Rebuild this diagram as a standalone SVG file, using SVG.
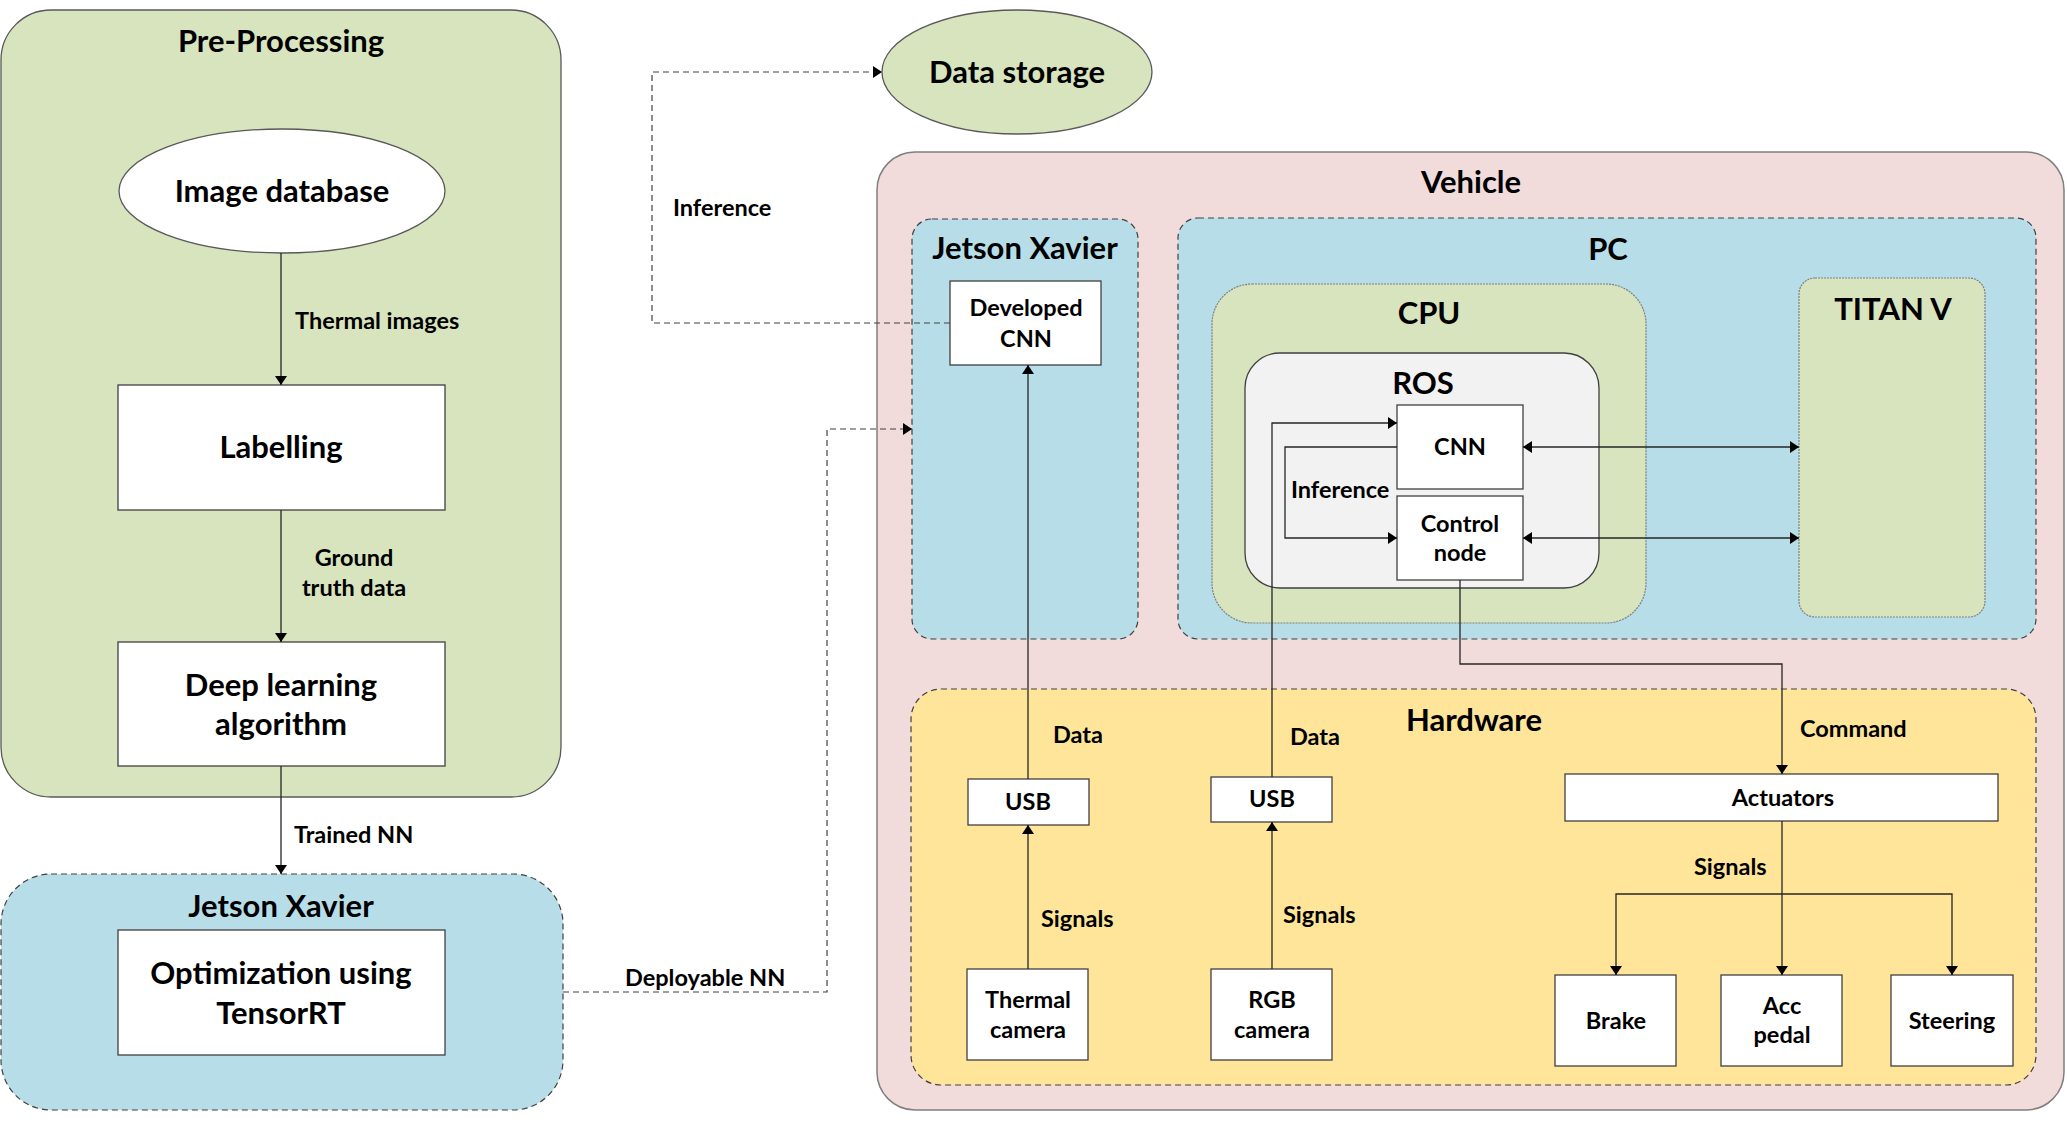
<svg xmlns="http://www.w3.org/2000/svg" width="2067" height="1128" viewBox="0 0 2067 1128">
<defs>
<marker id="ah" viewBox="0 0 9 12" markerWidth="9" markerHeight="12" refX="9" refY="6" orient="auto-start-reverse" markerUnits="userSpaceOnUse">
<path d="M0,0 L9,6 L0,12 z" fill="#000"/>
</marker>
</defs>
<style>
text{font-family:Lato,"Liberation Sans",sans-serif;font-weight:bold;fill:#000}
.lg{font-size:31px;text-anchor:middle}
.sm{font-size:23.5px;text-anchor:middle}
.lb{font-size:23.5px}
.box{fill:#fff;stroke:#404040;stroke-width:1.3}
.green{fill:#d7e4bd}
.blue{fill:#b7dee8}
.dash{stroke:#404040;stroke-width:1.2;stroke-dasharray:6 4}
.dot{stroke:#7f7f7f;stroke-width:1.2;stroke-dasharray:2 1}
.ln{fill:none;stroke:#262626;stroke-width:1.3}
.dl{fill:none;stroke:#404040;stroke-width:1.2;stroke-dasharray:6 4}
</style>
<rect width="2067" height="1128" fill="#fff"/>

<g id="preprocessing">
<rect x="1" y="10" width="560" height="787" rx="50" class="green" stroke="#595959" stroke-width="1.3"/>
<text class="lg" x="281" y="52">Pre-Processing</text>
</g>
<g id="image-database">
<ellipse cx="282" cy="191" rx="163" ry="62" fill="#fff" stroke="#595959" stroke-width="1.3"/>
<text class="lg" x="282" y="202">Image database</text>
</g>
<g id="labelling">
<rect x="118" y="385" width="327" height="125" class="box"/>
<text class="lg" x="281" y="458">Labelling</text>
</g>
<g id="deep-learning">
<rect x="118" y="642" width="327" height="124" class="box"/>
<text class="lg" x="281" y="696">Deep learning</text>
<text class="lg" x="281" y="735">algorithm</text>
</g>
<g id="jetson-left">
<rect x="1" y="874" width="562" height="236" rx="50" class="blue dash"/>
<text class="lg" x="281" y="917">Jetson Xavier</text>
</g>
<g id="optimization">
<rect x="118" y="930" width="327" height="125" class="box"/>
<text class="lg" x="281" y="984">Optimization using</text>
<text class="lg" x="281" y="1024">TensorRT</text>
</g>

<g id="data-storage">
<ellipse cx="1017" cy="72" rx="135" ry="62" class="green" stroke="#595959" stroke-width="1.3"/>
<text class="lg" x="1017" y="83">Data storage</text>
</g>

<g id="vehicle">
<rect x="877" y="152" width="1187" height="958" rx="38" fill="#f2dcdb" stroke="#7f7f7f" stroke-width="1.5"/>
<text class="lg" x="1471" y="193">Vehicle</text>
</g>
<g id="jetson-vehicle">
<rect x="912" y="219" width="226" height="420" rx="20" class="blue dash"/>
<text class="lg" x="1025" y="259">Jetson Xavier</text>
</g>
<g id="developed-cnn">
<rect x="950" y="281" width="151" height="84" class="box"/>
<text class="sm" x="1026" y="316">Developed</text>
<text class="sm" x="1026" y="347">CNN</text>
</g>
<g id="pc">
<rect x="1178" y="218" width="858" height="421" rx="20" class="blue dash"/>
<text class="lg" x="1608" y="260">PC</text>
</g>
<g id="cpu">
<rect x="1212" y="284" width="434" height="339" rx="40" class="green dot"/>
<text class="lg" x="1429" y="324">CPU</text>
</g>
<g id="titan-v">
<rect x="1799" y="278" width="186" height="339" rx="16" class="green dot"/>
<text class="lg" x="1893" y="320">TITAN V</text>
</g>
<g id="ros">
<rect x="1245" y="353" width="354" height="235" rx="35" fill="#f2f2f2" stroke="#404040" stroke-width="1.3"/>
<text class="lg" x="1423" y="394">ROS</text>
</g>
<g id="cnn">
<rect x="1397" y="405" width="126" height="84" class="box"/>
<text class="sm" x="1460" y="455">CNN</text>
</g>
<g id="control-node">
<rect x="1397" y="496" width="126" height="84" class="box"/>
<text class="sm" x="1460" y="532">Control</text>
<text class="sm" x="1460" y="561">node</text>
</g>
<g id="hardware">
<rect x="911" y="689" width="1125" height="396" rx="30" fill="#fee599" class="dash"/>
<text class="lg" x="1474" y="731">Hardware</text>
</g>
<g id="usb1">
<rect x="968" y="779" width="121" height="46" class="box"/>
<text class="sm" x="1028" y="810">USB</text>
</g>
<g id="usb2">
<rect x="1211" y="777" width="121" height="45" class="box"/>
<text class="sm" x="1272" y="807">USB</text>
</g>
<g id="thermal-camera">
<rect x="967" y="969" width="121" height="91" class="box"/>
<text class="sm" x="1028" y="1008">Thermal</text>
<text class="sm" x="1028" y="1038">camera</text>
</g>
<g id="rgb-camera">
<rect x="1211" y="969" width="121" height="91" class="box"/>
<text class="sm" x="1272" y="1008">RGB</text>
<text class="sm" x="1272" y="1038">camera</text>
</g>
<g id="actuators">
<rect x="1565" y="774" width="433" height="47" class="box"/>
<text class="sm" x="1783" y="806">Actuators</text>
</g>
<g id="brake">
<rect x="1555" y="975" width="121" height="91" class="box"/>
<text class="sm" x="1616" y="1029">Brake</text>
</g>
<g id="acc-pedal">
<rect x="1721" y="975" width="121" height="91" class="box"/>
<text class="sm" x="1782" y="1014">Acc</text>
<text class="sm" x="1782" y="1043">pedal</text>
</g>
<g id="steering">
<rect x="1891" y="975" width="122" height="91" class="box"/>
<text class="sm" x="1952" y="1029">Steering</text>
</g>

<g id="connectors">
<path class="ln" d="M281,253 V385" marker-end="url(#ah)"/>
<path class="ln" d="M281,510 V642" marker-end="url(#ah)"/>
<path class="ln" d="M281,766 V874" marker-end="url(#ah)"/>
<path class="dl" d="M563,992 H827 V429 H912" marker-end="url(#ah)"/>
<path class="dl" d="M950,323 H652 V72 H882" marker-end="url(#ah)"/>
<path class="ln" d="M1028,969 V825" marker-end="url(#ah)"/>
<path class="ln" d="M1028,779 V365" marker-end="url(#ah)"/>
<path class="ln" d="M1272,969 V822" marker-end="url(#ah)"/>
<path class="ln" d="M1272,777 V423 H1397" marker-end="url(#ah)"/>
<path class="ln" d="M1397,447 H1285 V538 H1397" marker-end="url(#ah)"/>
<path class="ln" d="M1523,447 H1799" marker-start="url(#ah)" marker-end="url(#ah)"/>
<path class="ln" d="M1523,538 H1799" marker-start="url(#ah)" marker-end="url(#ah)"/>
<path class="ln" d="M1460,580 V664 H1782 V774" marker-end="url(#ah)"/>
<path class="ln" d="M1782,821 V975" marker-end="url(#ah)"/>
<path class="ln" d="M1782,894 H1616 V975" marker-end="url(#ah)"/>
<path class="ln" d="M1782,894 H1952 V975" marker-end="url(#ah)"/>
<text class="lb" x="295" y="329">Thermal images</text>
<text class="sm" x="354" y="566">Ground</text>
<text class="sm" x="354" y="596">truth data</text>
<text class="lb" x="294" y="843">Trained NN</text>
<text class="lb" x="625" y="986">Deployable NN</text>
<text class="lb" x="673" y="216">Inference</text>
<text class="lb" x="1291" y="498">Inference</text>
<text class="lb" x="1053" y="743">Data</text>
<text class="lb" x="1290" y="745">Data</text>
<text class="lb" x="1041" y="927">Signals</text>
<text class="lb" x="1283" y="923">Signals</text>
<text class="lb" x="1800" y="737">Command</text>
<text class="lb" x="1694" y="875">Signals</text>
</g>
</svg>
